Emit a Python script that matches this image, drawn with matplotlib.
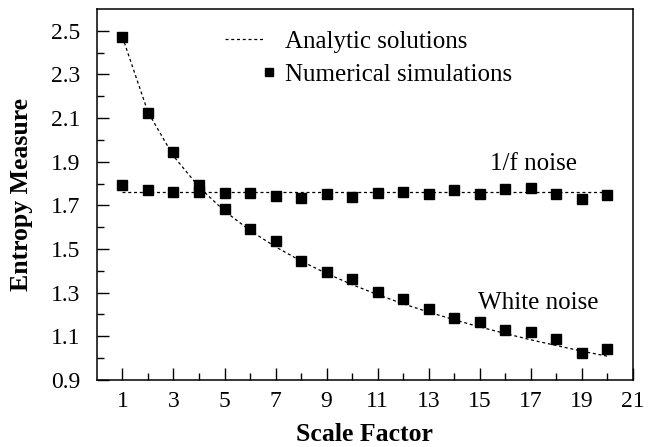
import numpy as np
import matplotlib
matplotlib.use("Agg")
import matplotlib.pyplot as plt
from matplotlib.legend_handler import HandlerLine2D
from matplotlib.lines import Line2D

plt.rcParams['font.family'] = ['Liberation Serif', 'DejaVu Serif']
plt.rcParams['mathtext.fontset'] = 'stix'

# ===== data =====
scale = list(range(1, 21))

# numerical simulations (squares)
white_sim = [2.47, 2.124, 1.944, 1.795, 1.683, 1.593, 1.535, 1.444, 1.396, 1.362,
             1.302, 1.270, 1.225, 1.185, 1.164, 1.127, 1.121, 1.089, 1.025, 1.040]
pink_sim = [1.795, 1.772, 1.762, 1.760, 1.758, 1.758, 1.742, 1.735, 1.753, 1.740,
            1.756, 1.761, 1.750, 1.769, 1.750, 1.775, 1.779, 1.753, 1.730, 1.749]

# analytic solutions (dotted lines)
white_ana = [2.471, 2.127, 1.926, 1.784, 1.674, 1.585, 1.510, 1.445, 1.388, 1.337,
             1.291, 1.249, 1.211, 1.176, 1.143, 1.113, 1.084, 1.058, 1.032, 1.009]
pink_ana = [1.762] * 20

yticks = [0.9, 1.1, 1.3, 1.5, 1.7, 1.9, 2.1, 2.3, 2.5]
yminor = [1.0, 1.2, 1.4, 1.6, 1.8, 2.0, 2.2, 2.4]
xticks = [1, 3, 5, 7, 9, 11, 13, 15, 17, 19, 21]
xminor = [2, 4, 6, 8, 10, 12, 14, 16, 18, 20]


class RightMarker(HandlerLine2D):
    # square sits at the right end of the handle, next to the text
    def get_xdata(self, legend, xdescent, ydescent, width, height, fontsize):
        xd = [-xdescent + 1.0 * width, -xdescent + 1.2 * width]
        return xd, [-xdescent + 1.1 * width]


fig = plt.figure(figsize=(6.55, 4.47), dpi=100)
ax = fig.add_axes([0.148, 0.150, 0.818, 0.830])

dash = (2.4, 2.2)
ax.plot(scale, white_ana, color='black', lw=0.9, dashes=dash, zorder=2)
ax.plot(scale, pink_ana, color='black', lw=0.9, dashes=dash, zorder=2)
ax.plot(scale, white_sim, 's', color='black', ms=6.8, zorder=3)
ax.plot(scale, pink_sim, 's', color='black', ms=6.8, zorder=3)

ax.text(17.1, 1.89, '1/f noise', fontsize=18, ha='center', va='center')
ax.text(17.3, 1.252, 'White noise', fontsize=18, ha='center', va='center')

h_ana = Line2D([], [], color='black', lw=0.9, dashes=dash)
h_sim = Line2D([], [], ls='none', marker='s', color='black', ms=6.0)
ax.legend([h_ana, h_sim], ['Analytic solutions', 'Numerical simulations'],
          loc='upper left', bbox_to_anchor=(0.239, 0.942), frameon=False,
          borderpad=0, borderaxespad=0, fontsize=18, handlelength=1.6,
          handletextpad=0.8, labelspacing=0.42,
          handler_map={h_sim: RightMarker(numpoints=1)})

ax.set_xlim(0, 21)
ax.set_ylim(0.9, 2.6)
ax.set_xticks(xticks)
ax.set_xticks(xminor, minor=True)
ax.set_yticks(yticks)
ax.set_yticks(yminor, minor=True)
ax.set_yticklabels([f"{v:.1f}" for v in yticks])

ax.tick_params(which='both', direction='in', top=False, right=False,
               width=1.0, labelsize=17)
ax.tick_params(which='major', length=8.6)
ax.tick_params(which='minor', length=5)
ax.tick_params(axis='y', which='major', pad=12)
ax.tick_params(axis='x', which='major', pad=8)
for s in ax.spines.values():
    s.set_linewidth(1.1)

ax.set_xlabel('Scale Factor', fontsize=18.5, fontweight='bold', labelpad=8)
ax.set_ylabel('Entropy Measure', fontsize=18.5, fontweight='bold', labelpad=13)

fig.savefig('out.png', dpi=100)
